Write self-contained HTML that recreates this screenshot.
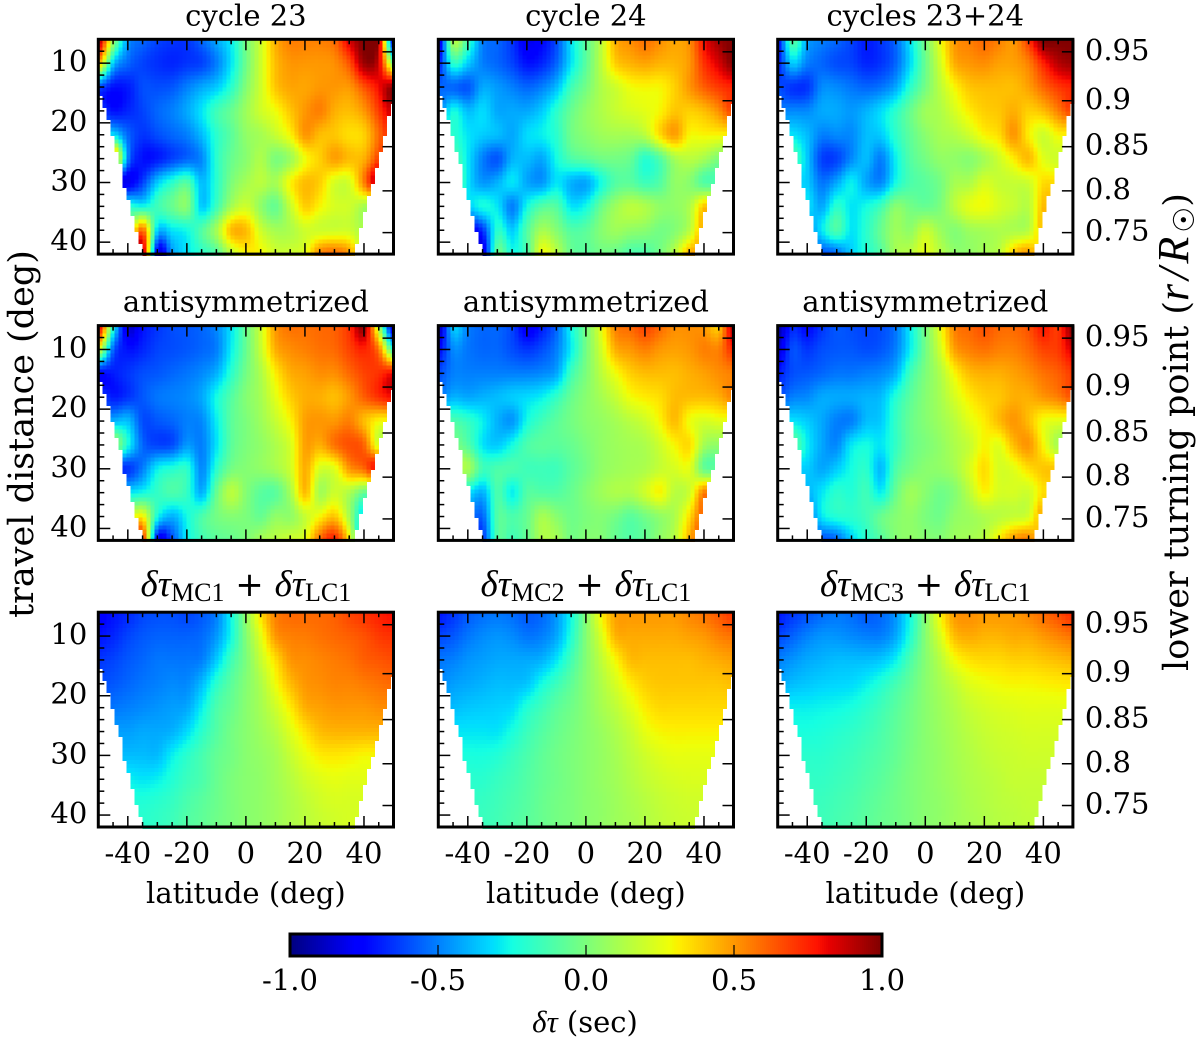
<!DOCTYPE html>
<html lang="en">
<head>
<meta charset="utf-8">
<title>Travel-time difference maps</title>
<style>
html,body{margin:0;padding:0;background:#fff;width:1200px;height:1040px;overflow:hidden}
svg{display:block}
text{font-family:"DejaVu Serif","Liberation Serif",serif;fill:#000}
.math{font-family:"Liberation Serif","DejaVu Serif",serif}
</style>
</head>
<body>
<svg id="figure" xmlns="http://www.w3.org/2000/svg" width="1200" height="1040" viewBox="0 0 1200 1040">
<text transform="translate(33,434) rotate(-90)" text-anchor="middle" font-size="35">travel distance (deg)</text>
<text transform="translate(1188,432) rotate(-90)" text-anchor="middle" font-size="35">lower turning point (<tspan class="math" font-style="italic" font-size="44" letter-spacing="4">r/R</tspan><tspan font-size="29" dy="6">☉</tspan><tspan dy="-6">)</tspan></text>
<text x="585" y="1032" text-anchor="middle" font-size="29"><tspan class="math" font-style="italic" font-size="31">δτ</tspan> (sec)</text>
</svg>
<script>
var latitudes=[-50,-45,-40,-35,-30,-25,-20,-15,-10,-5,0,5,10,15,20,25,30,35,40,45,50];
var distances=[6,10,14,18,22,26,30,34,38,42];
var leftEdgeDist=[6,14.5,16,18,21.8,24,27.3,30,33,35.7,38.5,40.7,42];
var leftEdgeLat=[-50,-50,-48.8,-47.3,-45.5,-44.4,-42,-41.5,-39.8,-38.4,-37,-35.3,-34.8];
var rightEdgeDist=[6,16,18,21.8,24,27.3,30,33,35.7,38.5,41.3,42];
var rightEdgeLat=[50,50,48.4,47,45.8,44.2,43,40.8,39.6,38,36.8,36.6];

var cycle23=[
[.95,.1,-.45,-.55,-.62,-.65,-.65,-.55,-.42,-.28,-.02,.2,.45,.55,.55,.55,.6,.85,1,.9,-.8],
[.45,-.35,-.55,-.62,-.66,-.68,-.65,-.62,-.5,-.3,-.03,.2,.42,.5,.5,.5,.52,.65,.95,.85,0],
[-.6,-.72,-.7,-.6,-.6,-.58,-.5,-.42,-.35,-.2,.02,.2,.4,.47,.47,.5,.5,.5,.65,.8,.98],
[-.6,-.72,-.68,-.62,-.55,-.5,-.42,-.3,-.15,-.05,.08,.2,.28,.4,.5,.55,.45,.42,.5,.7,.9],
[-.3,-.3,-.55,-.65,-.6,-.55,-.5,-.38,-.2,-.08,.05,.1,.18,.3,.5,.42,.4,.35,.38,.6,.8],
[.6,.6,-.5,-.72,-.7,-.62,-.55,-.48,-.2,-.05,.03,.12,0,.08,.28,.38,.48,.42,.45,.7,.9],
[-.8,-.8,-.8,-.62,-.35,-.2,-.1,-.38,-.2,0,.1,.15,.1,.3,.42,.38,.22,.22,.55,.95,.9],
[-.2,-.2,-.2,-.25,-.15,-.05,.02,-.35,-.15,.1,.2,.05,-.05,.18,.38,.3,.22,.2,.1,0,0],
[.6,.6,.1,.6,-.35,-.3,-.25,-.1,.1,.42,.42,.2,.1,.12,.2,.2,.2,.2,.1,.1,.1],
[.9,.9,.9,.95,-.8,-.45,-.3,-.2,-.1,.15,.3,.3,.2,.2,.25,.55,.6,.5,.1,.1,.1]];

var cycle24=[
[-.85,.12,-.15,-.5,-.55,-.65,-.8,-.75,-.6,-.3,-.08,.15,.45,.52,.58,.52,.47,.52,.8,.95,1],
[-.7,-.2,-.35,-.5,-.55,-.62,-.72,-.68,-.55,-.3,-.08,.15,.38,.44,.47,.44,.44,.5,.72,.85,1],
[-.55,-.55,-.58,-.42,-.45,-.5,-.55,-.5,-.38,-.15,-.02,.12,.2,.28,.3,.3,.38,.5,.62,.7,.75],
[-.5,-.25,-.38,-.32,-.42,-.42,-.42,-.35,-.2,-.05,.05,.12,.18,.22,.25,.3,.4,.38,.42,.52,.7],
[-.2,-.2,-.3,-.35,-.38,-.42,-.32,-.28,-.2,-.03,.03,.08,.1,.1,.15,.35,.48,.3,.3,.3,.3],
[-.1,-.1,-.3,-.5,-.58,-.4,-.38,-.42,-.25,-.12,-.08,-.03,-.02,-.05,-.2,-.1,.1,.15,.1,0,0],
[.05,.05,-.3,-.45,-.4,-.3,-.42,-.45,-.3,-.4,-.42,-.25,-.1,-.08,-.15,-.1,.05,.03,-.1,-.1,-.1],
[-.35,-.35,-.35,-.25,-.3,-.5,-.25,-.1,-.1,-.3,-.25,-.05,.08,.15,.12,.05,.05,.12,.4,.4,.4],
[-.8,-.8,-.8,-.65,-.2,-.35,-.1,.1,.02,-.1,-.08,.02,.08,.05,.03,-.02,.02,.15,.5,.5,.5],
[-.85,-.85,-.85,-.85,-.05,-.25,-.12,.28,.15,-.05,-.08,-.03,-.05,-.12,-.12,-.02,.15,.45,.5,.5,.5]];

var cycles2324=[
[-.75,-.1,-.42,-.5,-.55,-.62,-.7,-.65,-.55,-.3,-.02,.25,.5,.55,.6,.55,.5,.7,1,1,1],
[-.7,-.35,-.5,-.55,-.6,-.62,-.68,-.65,-.55,-.32,-.05,.2,.45,.5,.52,.48,.48,.55,.75,.9,.95],
[-.6,-.65,-.65,-.48,-.48,-.52,-.55,-.52,-.42,-.2,-.02,.15,.3,.4,.42,.42,.42,.48,.6,.7,.75],
[-.5,-.48,-.48,-.42,-.42,-.45,-.4,-.32,-.2,-.05,.08,.12,.22,.32,.38,.4,.45,.38,.42,.55,.7],
[-.3,-.3,-.38,-.5,-.48,-.48,-.38,-.35,-.2,-.07,.03,.1,.13,.2,.3,.35,.5,.32,.2,.3,.3],
[-.1,-.1,-.35,-.62,-.62,-.48,-.38,-.5,-.28,-.1,-.02,.05,.05,.03,.1,.2,.32,.42,.25,.2,.2],
[-.35,-.35,-.35,-.52,-.42,-.28,-.42,-.48,-.25,-.12,-.08,-.02,.1,.12,.22,.18,.18,.2,.35,.35,.35],
[-.3,-.3,-.3,-.42,-.2,-.3,-.25,-.15,.03,-.02,-.05,0,.15,.25,.28,.22,.18,.15,.42,.42,.42],
[-.5,-.5,-.5,-.3,-.12,-.3,-.2,-.05,.08,.05,.18,.08,.02,.08,.1,.12,.12,.15,.45,.45,.45],
[-.6,-.6,-.6,-.6,-.55,-.35,-.22,-.1,.1,.15,.25,.15,.05,.05,.1,.15,.4,.5,.2,.2,.2]];

var anti23=[
[.9,-.2,-.85,-.72,-.65,-.6,-.58,-.55,-.48,-.3,-.05,.2,.5,.58,.58,.6,.62,.72,.95,.1,-.9],
[.25,-.55,-.72,-.68,-.62,-.6,-.58,-.55,-.5,-.28,-.05,.18,.45,.52,.55,.58,.6,.68,.75,.55,-.2],
[-.75,-.7,-.65,-.6,-.58,-.55,-.52,-.48,-.4,-.2,-.02,.12,.32,.45,.48,.52,.52,.6,.68,.72,.8],
[-.6,-.7,-.65,-.58,-.52,-.5,-.48,-.42,-.25,-.1,.02,.1,.25,.38,.45,.45,.42,.5,.62,.72,.8],
[-.4,-.4,-.38,-.6,-.58,-.55,-.5,-.48,-.28,-.08,0,.08,.18,.3,.48,.5,.5,.55,.42,.3,.3],
[.1,.1,-.25,-.55,-.62,-.6,-.45,-.5,-.3,-.08,0,.05,.12,.22,.48,.45,.58,.65,.6,.2,.2],
[-.65,-.65,-.65,-.5,-.28,-.22,-.2,-.48,-.2,-.02,.02,.05,.1,.2,.45,.22,.25,.5,.6,.85,.85],
[-.3,-.3,-.3,-.25,-.18,-.12,-.18,-.4,-.05,.15,.02,-.08,-.08,.1,.42,.1,.2,.12,-.05,-.05,-.05],
[.2,.2,.2,.3,-.25,-.4,-.25,-.12,-.02,.02,0,-.05,.05,.05,.18,.3,.4,.1,-.4,-.4,-.4],
[.75,.75,.75,.75,-.75,-.6,-.28,-.15,-.08,-.05,0,.1,.15,.2,.25,.6,.75,.3,-.65,-.65,-.65]];

var anti24=[
[-.92,-.35,-.5,-.55,-.55,-.62,-.8,-.7,-.55,-.25,-.02,.25,.55,.6,.68,.6,.52,.52,.5,.4,.95],
[-.75,-.48,-.52,-.55,-.55,-.6,-.65,-.6,-.5,-.28,-.02,.2,.45,.5,.55,.5,.48,.5,.55,.55,.75],
[-.6,-.5,-.5,-.5,-.5,-.5,-.5,-.48,-.42,-.15,0,.15,.28,.38,.42,.42,.42,.45,.48,.52,.55],
[-.5,-.4,-.42,-.4,-.38,-.35,-.32,-.28,-.18,-.05,.03,.1,.18,.28,.32,.35,.42,.42,.42,.45,.55],
[-.12,-.12,-.18,-.28,-.4,-.45,-.25,-.15,-.08,-.02,.03,.06,.1,.15,.2,.3,.42,.28,.22,.25,.25],
[0,0,-.1,-.3,-.35,-.25,-.12,-.08,-.08,-.05,0,.05,.08,.1,.12,.2,.3,.35,.1,.05,.05],
[.1,.1,.1,-.15,-.12,-.12,-.15,-.15,-.15,-.08,-.02,.05,.08,.1,.12,.18,.22,.25,-.05,-.05,-.05],
[-.3,-.3,-.3,-.4,-.12,-.28,-.1,-.1,-.1,-.05,.02,.08,.12,.12,.2,.3,.15,.2,.55,.55,.55],
[-.5,-.5,-.5,-.55,-.1,-.12,-.05,.1,.03,-.03,0,.02,-.02,-.08,-.02,.05,.12,.35,.65,.65,.65],
[-.65,-.65,-.65,-.65,-.1,-.15,-.05,.12,.1,-.02,.02,.02,-.06,-.1,-.06,.05,.15,.45,.75,.75,.75]];

var anti2324=[
[-.95,-.68,-.75,-.65,-.58,-.6,-.62,-.6,-.52,-.28,-.02,.25,.55,.6,.65,.6,.6,.65,.78,.7,1],
[-.85,-.6,-.65,-.6,-.58,-.58,-.6,-.58,-.5,-.28,-.03,.2,.48,.55,.58,.55,.55,.6,.68,.7,.85],
[-.7,-.6,-.58,-.55,-.52,-.52,-.5,-.48,-.4,-.15,0,.12,.3,.42,.45,.45,.48,.52,.58,.62,.7],
[-.6,-.5,-.48,-.42,-.42,-.42,-.4,-.38,-.22,-.08,.02,.1,.22,.32,.38,.4,.45,.45,.5,.55,.65],
[-.3,-.3,-.35,-.42,-.5,-.5,-.38,-.35,-.18,-.05,.02,.08,.15,.25,.32,.42,.5,.42,.28,.25,.25],
[-.05,-.05,-.28,-.42,-.48,-.3,-.25,-.3,-.18,-.05,0,.05,.12,.18,.3,.25,.42,.5,.3,.1,.1],
[-.35,-.35,-.35,-.42,-.35,-.25,-.2,-.38,-.12,-.02,.03,.05,.1,.22,.35,.22,.25,.35,.4,.4,.4],
[-.4,-.4,-.4,-.3,-.2,-.22,-.15,-.28,-.05,.08,.03,-.03,.02,.15,.3,.22,.22,.2,.35,.35,.35],
[-.55,-.55,-.55,-.3,-.22,-.2,-.15,-.05,.02,.05,0,-.03,.05,.08,.12,.15,.18,.22,.5,.5,.5],
[-.6,-.6,-.6,-.6,-.55,-.35,-.2,-.1,.02,.05,.03,.02,.08,.1,.15,.32,.5,.55,.3,.3,.3]];

var modelMC1=[
[-.78,-.72,-.68,-.62,-.6,-.6,-.62,-.58,-.5,-.25,.05,.35,.55,.6,.6,.6,.62,.68,.72,.76,.8],
[-.72,-.68,-.62,-.58,-.56,-.56,-.56,-.54,-.45,-.25,.02,.25,.5,.55,.56,.58,.6,.62,.65,.7,.72],
[-.65,-.62,-.58,-.55,-.52,-.52,-.52,-.5,-.35,-.15,0,.18,.35,.5,.52,.54,.56,.58,.62,.64,.66],
[-.6,-.58,-.55,-.52,-.5,-.48,-.48,-.38,-.2,-.08,.02,.12,.28,.42,.5,.52,.54,.54,.56,.58,.6],
[-.55,-.52,-.5,-.48,-.46,-.44,-.42,-.28,-.12,-.05,.03,.1,.2,.32,.45,.48,.5,.5,.5,.52,.52],
[-.46,-.44,-.44,-.42,-.42,-.4,-.32,-.2,-.1,-.02,.03,.08,.14,.24,.34,.42,.44,.44,.44,.44,.44],
[-.38,-.38,-.38,-.38,-.38,-.28,-.2,-.13,-.06,-.02,.03,.06,.1,.18,.26,.32,.33,.32,.3,.3,.3],
[-.28,-.28,-.28,-.3,-.28,-.22,-.16,-.12,-.05,0,.03,.05,.09,.14,.2,.24,.26,.25,.25,.25,.25],
[-.22,-.22,-.22,-.22,-.2,-.17,-.12,-.08,-.04,0,.03,.05,.08,.12,.16,.2,.22,.22,.22,.22,.22],
[-.2,-.2,-.2,-.2,-.18,-.15,-.1,-.07,-.03,0,.03,.05,.08,.12,.15,.18,.2,.22,.22,.22,.22]];

var modelMC2=[
[-.72,-.65,-.58,-.54,-.52,-.54,-.58,-.55,-.45,-.25,.02,.3,.48,.5,.5,.5,.5,.54,.58,.64,.72],
[-.62,-.58,-.52,-.48,-.46,-.48,-.52,-.5,-.42,-.22,.02,.22,.44,.46,.46,.46,.46,.48,.5,.55,.58],
[-.52,-.5,-.46,-.44,-.42,-.42,-.42,-.4,-.3,-.14,.02,.16,.3,.42,.42,.42,.42,.42,.44,.46,.48],
[-.48,-.44,-.42,-.4,-.38,-.38,-.36,-.25,-.16,-.07,.03,.12,.22,.32,.38,.4,.4,.4,.4,.4,.42],
[-.4,-.38,-.36,-.35,-.34,-.32,-.22,-.15,-.08,-.03,.03,.1,.16,.24,.32,.36,.36,.36,.36,.36,.36],
[-.3,-.3,-.3,-.3,-.3,-.24,-.16,-.1,-.05,-.01,.03,.07,.12,.18,.26,.3,.31,.31,.31,.31,.31],
[-.24,-.24,-.24,-.24,-.22,-.17,-.12,-.07,-.03,0,.03,.06,.1,.15,.2,.24,.26,.26,.26,.26,.26],
[-.2,-.2,-.2,-.2,-.17,-.14,-.1,-.06,-.03,0,.03,.06,.09,.13,.17,.2,.22,.23,.23,.23,.23],
[-.18,-.18,-.18,-.17,-.15,-.12,-.09,-.05,-.02,0,.03,.05,.08,.11,.14,.17,.19,.2,.2,.2,.2],
[-.16,-.16,-.16,-.16,-.14,-.11,-.08,-.05,-.02,0,.03,.05,.08,.1,.13,.16,.18,.19,.19,.19,.19]];

var modelMC3=[
[-.72,-.65,-.6,-.55,-.52,-.54,-.58,-.55,-.46,-.25,.02,.3,.5,.52,.5,.5,.5,.54,.6,.66,.74],
[-.62,-.56,-.5,-.46,-.46,-.48,-.5,-.5,-.42,-.22,.02,.22,.42,.46,.44,.44,.46,.46,.5,.54,.58],
[-.5,-.46,-.42,-.4,-.38,-.38,-.38,-.36,-.28,-.12,.02,.14,.28,.34,.36,.36,.38,.38,.4,.42,.44],
[-.42,-.38,-.36,-.34,-.33,-.32,-.28,-.22,-.14,-.06,.03,.1,.17,.24,.27,.29,.3,.3,.31,.32,.33],
[-.28,-.28,-.28,-.27,-.26,-.24,-.2,-.15,-.09,-.03,.03,.08,.13,.18,.21,.23,.24,.25,.25,.25,.25],
[-.24,-.24,-.24,-.23,-.21,-.19,-.16,-.12,-.07,-.02,.03,.07,.11,.15,.18,.2,.21,.22,.22,.22,.22],
[-.2,-.2,-.2,-.2,-.18,-.16,-.13,-.1,-.06,-.01,.03,.06,.1,.13,.16,.18,.19,.2,.2,.2,.2],
[-.18,-.18,-.18,-.18,-.16,-.14,-.11,-.08,-.04,0,.03,.06,.09,.12,.14,.16,.18,.18,.18,.18,.18],
[-.16,-.16,-.16,-.16,-.14,-.12,-.09,-.06,-.03,0,.03,.05,.08,.11,.13,.15,.16,.17,.17,.17,.17],
[-.15,-.15,-.15,-.15,-.13,-.11,-.08,-.05,-.03,0,.03,.05,.08,.1,.12,.14,.15,.16,.16,.16,.16]];

var xTickMajor=[-40,-20,0,20,40];
var xTickMinor=[-45,-35,-30,-25,-15,-10,-5,5,10,15,25,30,35,45];
var yTickMajor=[10,20,30,40];
var yTickMinor=[8,12,14,16,18,22,24,26,28,32,34,36,38,42];
var radiusLabels=["0.95","0.9","0.85","0.8","0.75"];
var radiusDistances=[8.1,16.3,24,31.4,38.4];
var colorbarTicks=[-1,-0.5,0,0.5,1];
var colorbarLabels=["-1.0","-0.5","0.0","0.5","1.0"];
var panelData=[cycle23,cycle24,cycles2324,anti23,anti24,anti2324,modelMC1,modelMC2,modelMC3];
var panelKeys=["cycle-23","cycle-24","cycles-23-24","antisym-23","antisym-24","antisym-23-24","model-mc1","model-mc2","model-mc3"];
var plainTitles=["cycle 23","cycle 24","cycles 23+24","antisymmetrized","antisymmetrized","antisymmetrized"];
var modelNames=["MC1","MC2","MC3"];

var NS="http://www.w3.org/2000/svg";
var svg=document.getElementById("figure");
var colLeft=[98.3,438.3,777.7];
var rowTop=[39.3,325.6,612.2];
var PW=295.2, PH=214.8;
var LATMIN=-50, LATMAX=50, DMIN=6, DMAX=42;

function make(parent,tag,attrs){
  var el=document.createElementNS(NS,tag);
  for(var k in attrs){el.setAttribute(k,attrs[k]);}
  parent.appendChild(el);
  return el;
}
function piece(t,xs,ys){
  if(t<=xs[0])return ys[0];
  for(var i=1;i<xs.length;i++){
    if(t<=xs[i])return ys[i-1]+(ys[i]-ys[i-1])*(t-xs[i-1])/(xs[i]-xs[i-1]);
  }
  return ys[ys.length-1];
}
function jet(v){
  var t=Math.max(0,Math.min(1,(v+1)/2));
  var r=piece(t,[0,.35,.66,.89,1],[0,0,1,1,.5]);
  var g=piece(t,[0,.125,.375,.64,.91,1],[0,0,1,1,0,0]);
  var b=piece(t,[0,.11,.34,.65,1],[.5,1,1,0,0]);
  return "rgb("+Math.round(r*255)+","+Math.round(g*255)+","+Math.round(b*255)+")";
}
function cr(a,b,c,d,t){
  return .5*((2*b)+(-a+c)*t+(2*a-5*b+4*c-d)*t*t+(-a+3*b-3*c+d)*t*t*t);
}
function sample(grid,lat,dist){
  var fx=(lat-latitudes[0])/(latitudes[1]-latitudes[0]);
  var fy=(dist-distances[0])/(distances[1]-distances[0]);
  var nx=latitudes.length, ny=distances.length;
  var ix=Math.max(0,Math.min(nx-2,Math.floor(fx)));
  var iy=Math.max(0,Math.min(ny-2,Math.floor(fy)));
  var tx=fx-ix, ty=fy-iy, col=[];
  for(var j=-1;j<=2;j++){
    var row=grid[Math.max(0,Math.min(ny-1,iy+j))];
    col.push(cr(row[Math.max(0,ix-1)],row[ix],row[ix+1],row[Math.min(nx-1,ix+2)],tx));
  }
  return cr(col[0],col[1],col[2],col[3],ty);
}

function drawPanel(idx){
  var c=idx%3, r=Math.floor(idx/3);
  var x0=colLeft[c], y0=rowTop[r];
  var xS=function(lat){return x0+(lat-LATMIN)/(LATMAX-LATMIN)*PW;};
  var yS=function(d){return y0+(d-DMIN)/(DMAX-DMIN)*PH;};
  var key=panelKeys[idx];
  var g=make(svg,"g",{});
  
  

  var cells=make(g,"g",{"shape-rendering":"crispEdges"});
  
  
  var grid=panelData[idx];
  var stepLat=4/(PW/(LATMAX-LATMIN)), stepD=4/(PH/(DMAX-DMIN));
  for(var d=DMIN;d<DMAX;d+=stepD){
    var dc=d+stepD/2;
    var left=piece(dc,leftEdgeDist,leftEdgeLat), right=piece(dc,rightEdgeDist,rightEdgeLat);
    for(var la=LATMIN;la<LATMAX;la+=stepLat){
      var lc=la+stepLat/2;
      if(lc<left||lc>right)continue;
      var cell=make(cells,"rect",{x:xS(la).toFixed(1),y:yS(d).toFixed(1),width:4.6,height:4.6,fill:jet(sample(grid,lc,dc))});
      
      
    }
  }

  var ticks=make(g,"g",{stroke:"#000"});
  
  
  var yTop=y0, yBot=y0+PH, xL=x0, xR=x0+PW;
  xTickMajor.concat(xTickMinor).forEach(function(v,i){
    var len=i<xTickMajor.length?11:5;
    var sw=1.5;
    make(ticks,"line",{x1:xS(v),x2:xS(v),y1:yTop,y2:yTop+len,"stroke-width":sw});
    make(ticks,"line",{x1:xS(v),x2:xS(v),y1:yBot,y2:yBot-len,"stroke-width":sw});
  });
  yTickMajor.concat(yTickMinor).forEach(function(v,i){
    var len=i<yTickMajor.length?12:6;
    make(ticks,"line",{x1:xL,x2:xL+len,y1:yS(v),y2:yS(v),"stroke-width":1.5});
  });
  radiusDistances.forEach(function(v){
    make(ticks,"line",{x1:xR,x2:xR-11,y1:yS(v),y2:yS(v),"stroke-width":1.5});
  });

  var frame=make(g,"rect",{x:x0,y:y0,width:PW,height:PH,fill:"none",stroke:"#000","stroke-width":3});
  
  

  var cx=x0+PW/2;
  var title=make(g,"text",{x:cx,y:y0-(r===2?16:14),"text-anchor":"middle","font-size":29});
  
  
  if(r<2){
    title.textContent=plainTitles[idx];
  }else{
    title.setAttribute('font-size','34');
    var a=make(title,"tspan",{"class":"math","font-style":"italic","font-size":37});
    a.textContent="δτ";
    var b=make(title,"tspan",{"class":"math","font-size":26,dy:5});
    b.textContent=modelNames[c];
    var p=make(title,"tspan",{dy:-5,"font-family":"DejaVu Sans","font-size":34});
    p.textContent=" + ";
    var e=make(title,"tspan",{"class":"math","font-style":"italic","font-size":37});
    e.textContent="δτ";
    var f=make(title,"tspan",{"class":"math","font-size":26,dy:5});
    f.textContent="LC1";
  }

  if(c===0){
    yTickMajor.forEach(function(v){
      var t=make(g,"text",{x:x0-11,y:yS(v)+8,"text-anchor":"end","font-size":29});
      
      
      t.textContent=String(v);
    });
  }
  if(c===2){
    radiusDistances.forEach(function(v,i){
      var t=make(g,"text",{x:xR+12,y:yS(v)+8,"font-size":29});
      
      
      t.textContent=radiusLabels[i];
    });
  }
  if(r===2){
    xTickMajor.forEach(function(v){
      var t=make(g,"text",{x:xS(v),y:yBot+36,"text-anchor":"middle","font-size":29});
      
      
      t.textContent=String(v);
    });
    var xl=make(g,"text",{x:cx,y:yBot+76,"text-anchor":"middle","font-size":29});
    
    
    xl.textContent="latitude (deg)";
  }
}
for(var pi=0;pi<panelData.length;pi++){drawPanel(pi);}

(function(){
  var X0=290, X1=882, Y0=934, Y1=956;
  var cS=function(v){return X0+(v+1)/2*(X1-X0);};
  var g=make(svg,"g",{});
  
  
  var ramp=make(g,"g",{"shape-rendering":"crispEdges"});
  
  
  for(var px=X0;px<X1;px+=2){
    var v=-1+2*(px+1-X0)/(X1-X0);
    var s=make(ramp,"rect",{x:px,y:Y0,width:2.5,height:Y1-Y0,fill:jet(v)});
    
    
  }
  colorbarTicks.forEach(function(v,i){
    if(i>0&&i<colorbarTicks.length-1){
      var tk=make(g,"line",{x1:cS(v),x2:cS(v),y1:Y1,y2:Y1-11,stroke:"#000","stroke-width":1.2});
      
      
    }
    var t=make(g,"text",{x:cS(v),y:990,"text-anchor":"middle","font-size":29});
    
    
    t.textContent=colorbarLabels[i];
  });
  var fr=make(g,"rect",{x:X0,y:Y0,width:X1-X0,height:Y1-Y0,fill:"none",stroke:"#000","stroke-width":3});
  
  
})();
</script>
</body>
</html>
